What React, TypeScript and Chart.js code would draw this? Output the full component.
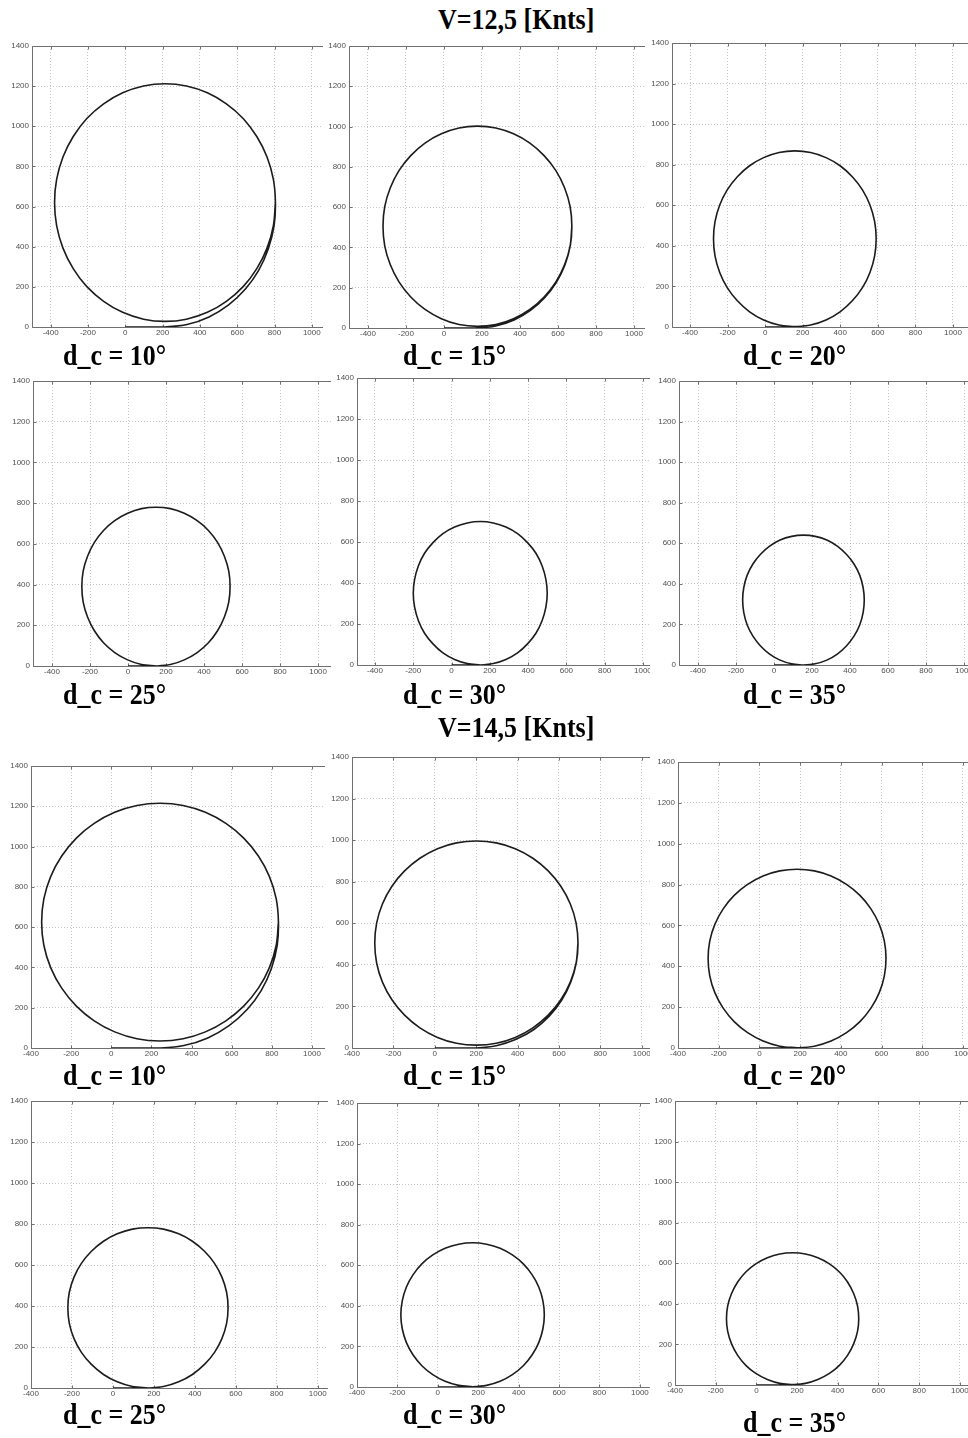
import React, { useEffect, useRef } from "react";
import { Chart, registerables } from "chart.js";

Chart.register(...registerables);

type Pt = [number, number];

// ---------- data ----------
const X_TICKS = [-400, -200, 0, 200, 400, 600, 800, 1000];
const Y_TICKS = [0, 200, 400, 600, 800, 1000, 1200, 1400];
const Y_MIN = 0;
const Y_MAX = 1400;

const SPEED_TITLES = ["V=12,5 [Knts]", "V=14,5 [Knts]"];
const RUDDER_ANGLES = [10, 15, 20, 25, 30, 35];

// turning trajectories, x / y position [m]
const V125_D10: Pt[] = [
  [0, 0], [110, 0], [213, 0], [331, 12], [449, 50], [554, 110], [644, 189], [715, 282], [767, 390], [798, 506], [805, 620],
  [794, 735], [760, 847], [705, 949], [632, 1039], [542, 1112], [440, 1167], [328, 1201], [213, 1212],
  [98, 1201], [-14, 1167], [-116, 1112], [-206, 1039], [-279, 949], [-334, 847], [-368, 735], [-379, 620],
  [-368, 505], [-334, 393], [-279, 291], [-206, 201], [-116, 128], [-14, 73], [98, 39], [213, 28],
  [328, 39], [440, 73], [542, 128], [632, 201], [705, 291], [760, 393], [794, 505], [805, 620],
];
const V125_D15: Pt[] = [
  [0, 0], [90, 0], [176, 0], [272, 10], [369, 40], [455, 88], [530, 151], [591, 225], [637, 314], [665, 410], [673, 505],
  [664, 602], [635, 695], [589, 781], [527, 856], [452, 918], [366, 964], [273, 993], [176, 1002],
  [79, 993], [-14, 964], [-100, 918], [-175, 856], [-237, 781], [-283, 695], [-312, 602], [-321, 505],
  [-312, 408], [-283, 315], [-237, 229], [-175, 154], [-100, 92], [-14, 46], [79, 17], [176, 8],
  [273, 17], [366, 46], [452, 92], [527, 154], [589, 229], [635, 315], [664, 408], [673, 505],
];
const V125_D20: Pt[] = [
  [0, 0], [80, 0], [158, 2], [242, 10], [324, 35], [399, 75], [464, 129], [518, 194], [558, 269], [583, 351],
  [591, 435], [583, 519], [558, 601], [518, 676], [464, 741], [399, 795], [324, 835], [242, 860], [158, 868],
  [74, 860], [-8, 835], [-83, 795], [-148, 741], [-202, 676], [-242, 601], [-267, 519], [-275, 435],
  [-267, 351], [-242, 269], [-202, 194], [-148, 129], [-83, 75], [-8, 35], [74, 10], [158, 2],
];
const V125_D25: Pt[] = [
  [0, 0], [75, 0], [147, 0], [223, 7], [296, 30], [364, 66], [423, 114], [471, 173], [507, 241], [530, 314],
  [537, 390], [530, 466], [507, 539], [471, 607], [423, 666], [364, 714], [296, 750], [223, 773], [147, 780],
  [71, 773], [-2, 750], [-70, 714], [-129, 666], [-177, 607], [-213, 539], [-236, 466], [-243, 390],
  [-236, 314], [-213, 241], [-177, 173], [-129, 114], [-70, 66], [-2, 30], [71, 7], [147, 0],
];
const V125_D30: Pt[] = [
  [0, 0], [75, 0], [150, 0], [218, 7], [284, 27], [345, 59], [397, 103], [441, 155], [473, 216], [493, 282],
  [500, 350], [493, 418], [473, 484], [441, 545], [397, 597], [345, 641], [284, 673], [218, 693], [150, 700],
  [82, 693], [16, 673], [-45, 641], [-97, 597], [-141, 545], [-173, 484], [-193, 418], [-200, 350],
  [-193, 282], [-173, 216], [-141, 155], [-97, 103], [-45, 59], [16, 27], [82, 7], [150, 0],
];
const V125_D35: Pt[] = [
  [0, 0], [78, 0], [155, 0], [217, 6], [278, 24], [333, 54], [381, 94], [421, 142], [451, 197], [469, 258],
  [475, 320], [469, 382], [451, 443], [421, 498], [381, 546], [333, 586], [278, 616], [217, 634], [155, 640],
  [93, 634], [32, 616], [-23, 586], [-71, 546], [-111, 498], [-141, 443], [-159, 382], [-165, 320],
  [-159, 258], [-141, 197], [-111, 142], [-71, 94], [-23, 54], [32, 24], [93, 6], [155, 0],
];
const V145_D10: Pt[] = [
  [0, 0], [120, 0], [243, 0], [362, 12], [481, 50], [587, 111], [677, 191], [747, 285], [798, 395], [827, 511], [833, 625],
  [822, 740], [788, 851], [733, 953], [660, 1042], [571, 1115], [469, 1170], [358, 1204], [243, 1215],
  [128, 1204], [17, 1170], [-85, 1115], [-174, 1042], [-247, 953], [-302, 851], [-336, 740], [-347, 625],
  [-336, 510], [-302, 399], [-247, 297], [-174, 208], [-85, 135], [17, 80], [128, 46], [243, 35],
  [358, 46], [469, 80], [571, 135], [660, 208], [733, 297], [788, 399], [822, 510], [833, 625],
];
const V145_D15: Pt[] = [
  [0, 0], [100, 0], [201, 0], [297, 11], [393, 42], [479, 89], [553, 153], [612, 228], [657, 316], [684, 411], [692, 505],
  [683, 601], [655, 693], [609, 778], [548, 852], [474, 913], [389, 959], [297, 987], [201, 996],
  [105, 987], [13, 959], [-72, 913], [-146, 852], [-207, 778], [-253, 693], [-281, 601], [-290, 505],
  [-281, 409], [-253, 317], [-207, 232], [-146, 158], [-72, 97], [13, 51], [105, 23], [201, 14],
  [297, 23], [389, 51], [474, 97], [548, 158], [609, 232], [655, 317], [683, 409], [692, 505],
];
const V145_D20: Pt[] = [
  [0, 0], [92, 0], [185, 1], [270, 9], [352, 34], [428, 75], [494, 129], [548, 195], [589, 271], [614, 353],
  [622, 438], [614, 523], [589, 605], [548, 681], [494, 747], [428, 801], [352, 842], [270, 867], [185, 875],
  [100, 867], [18, 842], [-58, 801], [-124, 747], [-178, 681], [-219, 605], [-244, 523], [-252, 438],
  [-244, 353], [-219, 271], [-178, 195], [-124, 129], [-58, 75], [18, 34], [100, 9], [185, 1],
];
const V145_D25: Pt[] = [
  [0, 0], [85, 0], [171, 0], [247, 7], [321, 30], [388, 66], [447, 115], [496, 174], [532, 241], [555, 315],
  [562, 391], [555, 467], [532, 541], [496, 608], [447, 667], [388, 716], [321, 752], [247, 775], [171, 782],
  [95, 775], [21, 752], [-46, 716], [-105, 667], [-154, 608], [-190, 541], [-213, 467], [-220, 391],
  [-213, 315], [-190, 241], [-154, 174], [-105, 115], [-46, 66], [21, 30], [95, 7], [171, 0],
];
const V145_D30: Pt[] = [
  [0, 0], [86, 0], [172, 1], [241, 8], [308, 28], [369, 61], [423, 105], [467, 159], [500, 220], [520, 287],
  [527, 356], [520, 425], [500, 492], [467, 553], [423, 607], [369, 651], [308, 684], [241, 704], [172, 711],
  [103, 704], [36, 684], [-25, 651], [-79, 607], [-123, 553], [-156, 492], [-176, 425], [-183, 356],
  [-176, 287], [-156, 220], [-123, 159], [-79, 105], [-25, 61], [36, 28], [103, 8], [172, 1],
];
const V145_D35: Pt[] = [
  [0, 0], [89, 0], [178, 2], [241, 8], [302, 27], [359, 57], [408, 97], [448, 146], [478, 203], [497, 264],
  [503, 327], [497, 390], [478, 451], [448, 508], [408, 557], [359, 597], [302, 627], [241, 646], [178, 652],
  [115, 646], [54, 627], [-3, 597], [-52, 557], [-92, 508], [-122, 451], [-141, 390], [-147, 327],
  [-141, 264], [-122, 203], [-92, 146], [-52, 97], [-3, 57], [54, 27], [115, 8], [178, 2],
];

const TRAJECTORIES: Pt[][] = [
  V125_D10, V125_D15, V125_D20, V125_D25, V125_D30, V125_D35,
  V145_D10, V145_D15, V145_D20, V145_D25, V145_D30, V145_D35,
];

// axis ranges (x) per panel
const X_RANGES: [number, number][] = [
  [-500, 1060], [-500, 1058], [-496, 1080],
  [-500, 1068], [-494, 1037], [-500, 1021],
  [-400, 1065], [-400, 1040], [-400, 1025],
  [-400, 1050], [-400, 1050], [-400, 1040],
];

// ---------- layout ----------
const COL_START = [0, 324, 648];
const PLOT_BOXES = [
  { left: 32, top: 46, right: 323, bottom: 327 },
  { left: 349, top: 46, right: 645, bottom: 328 },
  { left: 672, top: 43, right: 968, bottom: 327 },
  { left: 33, top: 381, right: 331, bottom: 666 },
  { left: 357, top: 378, right: 650, bottom: 665 },
  { left: 679, top: 381, right: 968, bottom: 665 },
  { left: 31, top: 766, right: 325, bottom: 1048 },
  { left: 352, top: 757, right: 650, bottom: 1048 },
  { left: 678, top: 762, right: 968, bottom: 1048 },
  { left: 31, top: 1101, right: 328, bottom: 1388 },
  { left: 357, top: 1103, right: 650, bottom: 1387 },
  { left: 675, top: 1101, right: 968, bottom: 1385 },
];
const LABEL_POS = [
  [63, 341.3], [403, 341.3], [743, 341.3],
  [63, 680.3], [403, 680.3], [743, 680.3],
  [63, 1061.3], [403, 1060.5], [743, 1061.3],
  [63, 1400.3], [403, 1400.3], [743, 1408.3],
];
const TITLE_POS = [[438, 4.8], [438, 712.8]];

const PAD_TOP = 6;
const X_AXIS_H = 14;
const FRAME_COLOR = "#707070";
const TICK_FONT = { family: '"Liberation Sans", Arial, sans-serif', size: 8 };

const framePlugin = {
  id: "matlabFrame",
  beforeDatasetsDraw(chart: any) {
    const { ctx, chartArea: a, scales } = chart;
    const l = Math.round(a.left) + 0.5;
    const t = Math.round(a.top) + 0.5;
    const b = Math.round(a.bottom) + 0.5;
    const r = a.right;
    ctx.save();
    ctx.strokeStyle = FRAME_COLOR;
    ctx.lineWidth = 1;
    ctx.setLineDash([]);
    ctx.beginPath();
    ctx.moveTo(r, t);
    ctx.lineTo(l, t);
    ctx.lineTo(l, b);
    ctx.lineTo(r, b);
    X_TICKS.forEach((v) => {
      const px = Math.round(scales.x.getPixelForValue(v)) + 0.5;
      if (px < a.left - 1 || px > a.right) return;
      ctx.moveTo(px, b);
      ctx.lineTo(px, b - 3);
      ctx.moveTo(px, t);
      ctx.lineTo(px, t + 3);
    });
    Y_TICKS.forEach((v) => {
      const py = Math.round(scales.y.getPixelForValue(v)) + 0.5;
      ctx.moveTo(l, py);
      ctx.lineTo(l + 3, py);
    });
    ctx.stroke();
    ctx.restore();
  },
};

function Panel({ index }: { index: number }) {
  const ref = useRef<HTMLCanvasElement>(null);
  const box = PLOT_BOXES[index];
  const colStart = COL_START[index % 3];
  const yW = box.left - colStart;
  const width = box.right - colStart;
  const height = PAD_TOP + (box.bottom - box.top) + X_AXIS_H;

  useEffect(() => {
    const pts = TRAJECTORIES[index];
    const [xMin, xMax] = X_RANGES[index];
    const chart = new Chart(ref.current as HTMLCanvasElement, {
      type: "scatter",
      data: {
        datasets: [
          {
            data: pts.map(([x, y]) => ({ x, y })),
            showLine: true,
            pointRadius: 0,
            borderColor: "#1c1c1c",
            borderWidth: 1.6,
            tension: 0.335,
            fill: false,
          },
        ],
      },
      options: {
        responsive: false,
        animation: false,
        devicePixelRatio: 1,
        events: [],
        layout: { padding: { top: PAD_TOP, left: 0, right: 0, bottom: 0 } },
        plugins: {
          legend: { display: false },
          tooltip: { enabled: false },
          title: { display: false },
        },
        scales: {
          x: {
            type: "linear",
            min: xMin,
            max: xMax,
            afterBuildTicks: (s: any) => {
              s.ticks = X_TICKS.map((v) => ({ value: v }));
            },
            afterFit: (s: any) => {
              s.height = X_AXIS_H;
              s.paddingLeft = 0;
              s.paddingRight = 0;
            },
            ticks: {
              callback: (v: any) => String(v),
              font: TICK_FONT,
              color: "#505050",
              padding: 1,
              maxRotation: 0,
              minRotation: 0,
              autoSkip: false,
            },
            grid: { color: "rgba(0,0,0,0.22)", lineWidth: 1, drawTicks: false, tickLength: 0 },
            border: { display: false, dash: [1, 2] },
          },
          y: {
            type: "linear",
            min: Y_MIN,
            max: Y_MAX,
            afterBuildTicks: (s: any) => {
              s.ticks = Y_TICKS.map((v) => ({ value: v }));
            },
            afterFit: (s: any) => {
              s.width = yW;
              s.paddingTop = 0;
              s.paddingBottom = 0;
            },
            ticks: {
              callback: (v: any) => String(v),
              font: TICK_FONT,
              color: "#505050",
              padding: 3,
              autoSkip: false,
            },
            grid: { color: "rgba(0,0,0,0.22)", lineWidth: 1, drawTicks: false, tickLength: 0 },
            border: { display: false, dash: [1, 2] },
          },
        },
      } as any,
      plugins: [framePlugin],
    });
    return () => chart.destroy();
  }, [index, yW]);

  return (
    <canvas
      ref={ref}
      width={width}
      height={height}
      style={{
        position: "absolute",
        left: colStart,
        top: box.top - PAD_TOP,
        width,
        height,
      }}
    />
  );
}

const serifBold: React.CSSProperties = {
  position: "absolute",
  fontFamily: '"Liberation Serif", "Times New Roman", serif',
  fontWeight: "bold",
  fontSize: 26,
  lineHeight: "26px",
  whiteSpace: "nowrap",
  color: "#000",
  transform: "scaleY(1.12)",
  transformOrigin: "0 0",
};

export default function App() {
  return (
    <div
      style={{
        position: "absolute",
        left: 0,
        top: 0,
        width: 968,
        height: 1438,
        background: "#fff",
        overflow: "hidden",
      }}
    >
      {TRAJECTORIES.map((_, i) => (
        <Panel key={i} index={i} />
      ))}
      {SPEED_TITLES.map((t, i) => (
        <div key={"t" + i} style={{ ...serifBold, left: TITLE_POS[i][0], top: TITLE_POS[i][1] }}>
          {t}
        </div>
      ))}
      {TRAJECTORIES.map((_, i) => (
        <div key={"l" + i} style={{ ...serifBold, left: LABEL_POS[i][0], top: LABEL_POS[i][1] }}>
          {`d_c = ${RUDDER_ANGLES[i % 6]}°`}
        </div>
      ))}
    </div>
  );
}
